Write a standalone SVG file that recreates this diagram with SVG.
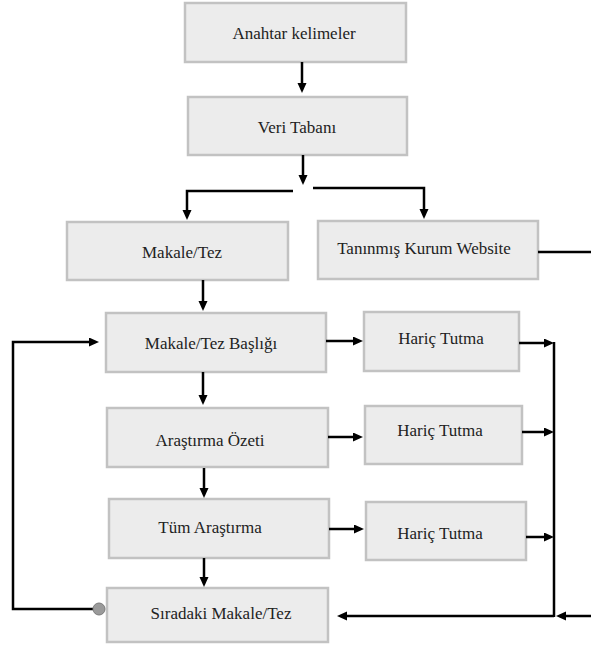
<svg xmlns="http://www.w3.org/2000/svg" width="591" height="645" viewBox="0 0 591 645">
<style>
.box{fill:#ececec;stroke:#c2c2c2;stroke-width:2.5}
.lbl{font-size:17px;fill:#222;text-anchor:middle;dominant-baseline:central}
.ln{fill:none;stroke:#000;stroke-width:2.5}
.ar{marker-end:url(#ah)}
</style>
<defs>
<marker id="ah" markerUnits="userSpaceOnUse" markerWidth="11" markerHeight="10" refX="3" refY="4.5" orient="auto">
<path d="M0,0 L10,4.5 L0,9 z" fill="#000"/>
</marker>
</defs>
<rect width="591" height="645" fill="#fff"/>
<g font-family="'Liberation Serif', 'DejaVu Serif', serif">
<g id="n1"><rect class="box" x="185" y="3" width="221" height="59"/><text class="lbl" x="294" y="33">Anahtar kelimeler</text></g>
<g id="n2"><rect class="box" x="188" y="97" width="219" height="58"/><text class="lbl" x="297" y="127">Veri Tabanı</text></g>
<g id="n3"><rect class="box" x="67" y="222" width="221" height="58"/><text class="lbl" x="182" y="252">Makale/Tez</text></g>
<g id="n4"><rect class="box" x="318" y="221" width="220" height="58"/><text class="lbl" x="424" y="248">Tanınmış Kurum Website</text></g>
<g id="n5"><rect class="box" x="106" y="313" width="220" height="59"/><text class="lbl" x="211" y="343">Makale/Tez Başlığı</text></g>
<g id="n6"><rect class="box" x="364" y="312" width="155" height="59"/><text class="lbl" x="441" y="338">Hariç Tutma</text></g>
<g id="n7"><rect class="box" x="107" y="408" width="221" height="59"/><text class="lbl" x="210" y="440">Araştırma Özeti</text></g>
<g id="n8"><rect class="box" x="365" y="406" width="157" height="58"/><text class="lbl" x="440" y="430">Hariç Tutma</text></g>
<g id="n9"><rect class="box" x="109" y="499" width="220" height="59"/><text class="lbl" x="210" y="527">Tüm Araştırma</text></g>
<g id="n10"><rect class="box" x="366" y="502" width="160" height="58"/><text class="lbl" x="440" y="533">Hariç Tutma</text></g>
<g id="n11"><rect class="box" x="107" y="588" width="221" height="54"/><text class="lbl" x="221" y="613">Sıradaki Makale/Tez</text></g>
</g>
<g id="connectors">
<line class="ln ar" x1="302" y1="62" x2="302" y2="86"/>
<line class="ln ar" x1="303" y1="155" x2="303" y2="178"/>
<polyline class="ln ar" points="293,191 187,191 187,213"/>
<polyline class="ln ar" points="313,188 424,188 424,212"/>
<line class="ln" x1="538" y1="252" x2="591" y2="252"/>
<line class="ln ar" x1="203" y1="280" x2="203" y2="304"/>
<line class="ln ar" x1="326" y1="341" x2="356" y2="341"/>
<line class="ln ar" x1="203" y1="372" x2="203" y2="398"/>
<line class="ln ar" x1="328" y1="437" x2="356" y2="437"/>
<line class="ln ar" x1="204" y1="468" x2="204" y2="491"/>
<line class="ln ar" x1="329" y1="529" x2="357" y2="529"/>
<line class="ln ar" x1="204" y1="558" x2="204" y2="580"/>
<line class="ln ar" x1="519" y1="343" x2="547" y2="343"/>
<line class="ln ar" x1="522" y1="432" x2="547" y2="432"/>
<line class="ln ar" x1="526" y1="537" x2="547" y2="537"/>
<line class="ln" x1="554" y1="342" x2="554" y2="617"/>
<line class="ln ar" x1="591" y1="616" x2="563" y2="616"/>
<line class="ln ar" x1="554" y1="616" x2="344" y2="616"/>
<polyline class="ln ar" points="93,609 13,609 13,342 92,342"/>
<circle cx="99" cy="609" r="6" fill="#9a9a9a" stroke="#7a7a7a" stroke-width="1"/>
</g>
</svg>
